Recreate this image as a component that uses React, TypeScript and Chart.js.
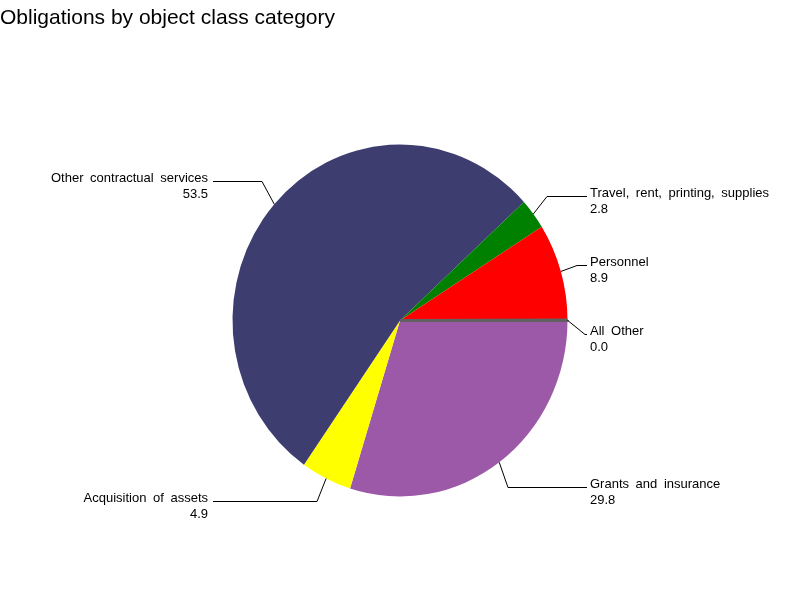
import React, { useEffect, useRef } from "react";
import { Chart, registerables } from "chart.js";

Chart.register(...registerables);

const chartTitle = "Obligations by object class category";
// clockwise order starting at 3 o'clock
const categories = [
  "Grants and insurance",
  "Acquisition of assets",
  "Other contractual services",
  "Travel, rent, printing, supplies",
  "Personnel",
  "All Other",
];
const values = [29.8, 4.9, 53.5, 2.8, 8.9, 0.04];
const sliceColors = ["#9b59a7", "#ffff00", "#3d3d70", "#008000", "#ff0000", "#606060"];
const sliceBorderWidths = [0, 0, 0, 0, 0, 3];

// label layout (annotation positions)
const labelSide = ["right", "left", "left", "right", "right", "right"];
const labelBaseline = [488, 502, 182, 196.5, 266, 335];
const elbowX = [508, 317, 262, 547, 577, 585];

const Y_STRETCH = 175.5 / 167;
const FONT = '"Liberation Sans", Arial, Helvetica, sans-serif';

const ellipsePlugin = {
  id: "ellipse",
  beforeDatasetsDraw(chart: any) {
    const meta = chart.getDatasetMeta(0);
    const arc = meta.data[0];
    if (!arc) return;
    const ctx = chart.ctx;
    ctx.save();
    ctx.translate(arc.x, arc.y);
    ctx.scale(1, Y_STRETCH);
    ctx.translate(-arc.x, -arc.y);
  },
  afterDatasetsDraw(chart: any) {
    chart.ctx.restore();
  },
};

const labelPlugin = {
  id: "labels",
  afterDraw(chart: any) {
    const ctx = chart.ctx;
    ctx.save();
    // title
    ctx.fillStyle = "#000";
    ctx.font = `21px ${FONT}`;
    ctx.textAlign = "left";
    ctx.textBaseline = "alphabetic";
    ctx.fillText(chartTitle, 0, 24);

    const meta = chart.getDatasetMeta(0);
    const data = chart.data.datasets[0].data as number[];
    ctx.strokeStyle = "#000";
    ctx.lineWidth = 1;
    ctx.font = `13px ${FONT}`;
    try {
      (ctx as any).wordSpacing = "3px";
    } catch (e) {}
    meta.data.forEach((arc: any, i: number) => {
      const p = arc.getProps(["x", "y", "startAngle", "endAngle", "outerRadius"], true);
      const mid = (p.startAngle + p.endAngle) / 2;
      const ex = p.x + Math.cos(mid) * p.outerRadius;
      const ey = p.y + Math.sin(mid) * p.outerRadius * Y_STRETCH;
      const right = labelSide[i] === "right";
      const by = labelBaseline[i];
      const ly = Math.round(by - 1) + 0.5;
      const lineEnd = right ? 587 : 213;
      ctx.beginPath();
      ctx.moveTo(ex, ey);
      ctx.lineTo(elbowX[i], ly);
      ctx.lineTo(lineEnd, ly);
      ctx.stroke();
      ctx.textAlign = right ? "left" : "right";
      const tx = right ? 590 : 208;
      ctx.fillText(chart.data.labels[i], tx, by);
      ctx.fillText(data[i].toFixed(1), tx, by + 16);
    });
    ctx.restore();
  },
};

export default function App() {
  const ref = useRef<HTMLCanvasElement>(null);
  useEffect(() => {
    if (!ref.current) return;
    const chart = new Chart(ref.current, {
      type: "pie",
      data: {
        labels: categories,
        datasets: [
          {
            data: values,
            backgroundColor: sliceColors,
            borderColor: sliceColors,
            borderWidth: sliceBorderWidths,
            clip: false,
          } as any,
        ],
      },
      options: {
        responsive: false,
        animation: false,
        rotation: 90,
        layout: { padding: { top: 151.5, bottom: 110.5, left: 231, right: 231 } },
        plugins: {
          legend: { display: false },
          tooltip: { enabled: false },
          title: { display: false },
        },
      },
      plugins: [ellipsePlugin, labelPlugin],
    });
    return () => chart.destroy();
  }, []);
  return (
    <div style={{ position: "fixed", left: 0, top: 0, width: 800, height: 600, background: "#fff" }}>
      <canvas ref={ref} width={800} height={600} />
    </div>
  );
}
